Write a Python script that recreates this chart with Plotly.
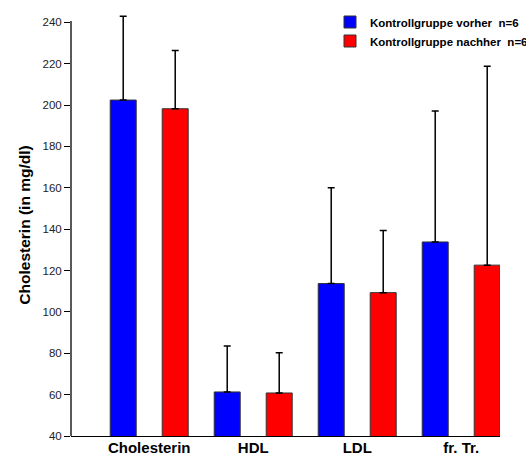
import plotly.graph_objects as go

categories = ["Cholesterin", "HDL", "LDL", "fr. Tr."]
vorher_mean = [202.4, 61.3, 113.7, 133.8]
vorher_sd = [40.5, 22.2, 46.3, 63.3]
nachher_mean = [198.2, 60.8, 109.3, 122.6]
nachher_sd = [28.2, 19.5, 30.0, 96.2]
series_names = ["Kontrollgruppe vorher\u00a0 n=6", "Kontrollgruppe nachher\u00a0 n=6"]
y_ticks = [40, 60, 80, 100, 120, 140, 160, 180, 200, 220, 240]

FONT = "Liberation Sans, Arial, sans-serif"

fig = go.Figure()
for name, mean, sd, color in [
    (series_names[0], vorher_mean, vorher_sd, "#0000ff"),
    (series_names[1], nachher_mean, nachher_sd, "#ff0000"),
]:
    fig.add_trace(go.Bar(
        x=categories, y=mean, name=name,
        marker=dict(color=color, line=dict(color="#333333", width=1)),
        error_y=dict(type="data", array=sd, arrayminus=[0] * len(sd), symmetric=False,
                     color="black", thickness=1.5, width=3.5),
    ))

# y axis line drawn only up to the top tick
fig.add_shape(type="line", xref="paper", x0=0, x1=0, yref="y", y0=y_ticks[0], y1=y_ticks[-1] + 0.6,
              line=dict(color="black", width=1.3), layer="above")

fig.update_layout(
    width=526, height=456,
    margin=dict(l=71, r=26, t=14, b=20, autoexpand=False),
    paper_bgcolor="white", plot_bgcolor="white",
    barmode="group", bargap=0, bargroupgap=0.5,
    font=dict(family=FONT, color="black"),
    showlegend=True,
    legend=dict(x=330 / 526, y=1 - 7.5 / 456, xref="container", yref="container",
                xanchor="left", yanchor="top",
                bgcolor="rgba(0,0,0,0)", font=dict(size=11.5, family=FONT, color="black", weight="bold"),
                itemwidth=30, tracegroupgap=0),
    xaxis=dict(range=[-0.752, 3.373], showline=True, linecolor="black", linewidth=1.3,
               ticks="", showgrid=False, zeroline=False, automargin=False,
               ticklabelstandoff=-2,
               tickfont=dict(size=15, family=FONT, color="black", weight="bold")),
    yaxis=dict(range=[40, 244], tickvals=y_ticks, showline=False,
               ticks="outside", ticklen=6, tickcolor="black", tickwidth=1,
               showgrid=False, zeroline=False, automargin=False,
               tickfont=dict(size=11.5, family=FONT, color="#222222"),
               title=dict(text="Cholesterin (in mg/dl)", standoff=8,
                          font=dict(size=15.5, family=FONT, color="black", weight="bold"))),
)

fig.write_html("out.html")
